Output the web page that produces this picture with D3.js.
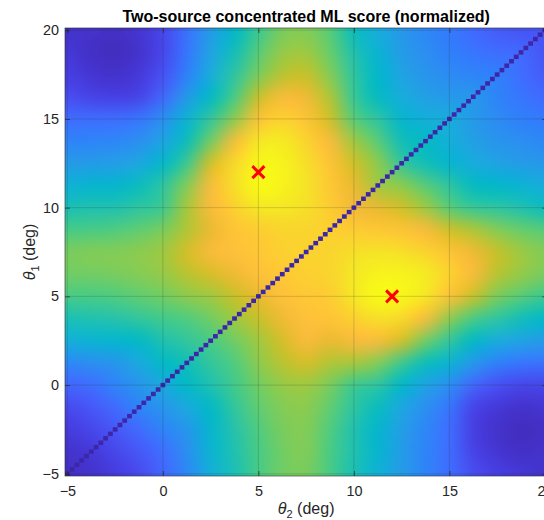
<!DOCTYPE html>
<html>
<head>
<meta charset="utf-8">
<script src="https://cdn.jsdelivr.net/npm/d3@7"></script>
<style>
  body { margin: 0; background: #fff; }
  svg { display: block; font-family: "Liberation Sans", Arial, Helvetica, sans-serif; }
</style>
</head>
<body>
<svg id="chart" width="544" height="520"></svg>
<script>
// sample points of the score map, every 1.25 deg
const thetaGrid = [-5, -3.75, -2.5, -1.25, 0, 1.25, 2.5, 3.75, 5, 6.25, 7.5,
  8.75, 10, 11.25, 12.5, 13.75, 15, 16.25, 17.5, 18.75, 20];

// rows: theta1 = -5 ... 20 (same order as thetaGrid), columns: theta2 = -5 ... 20
// diagonal entries hold the value just next to the diagonal
const scoreGrid = [
  [0.04, 0.05, 0.08, 0.12, 0.20, 0.29, 0.42, 0.51, 0.60, 0.65, 0.66, 0.60, 0.51, 0.43, 0.35, 0.28, 0.22, 0.13, 0.09, 0.07, 0.05],
  [0.05, 0.07, 0.11, 0.16, 0.22, 0.31, 0.44, 0.52, 0.60, 0.65, 0.67, 0.60, 0.52, 0.45, 0.35, 0.28, 0.22, 0.10, 0.06, 0.04, 0.05],
  [0.08, 0.11, 0.16, 0.21, 0.28, 0.33, 0.45, 0.53, 0.61, 0.66, 0.67, 0.61, 0.52, 0.45, 0.36, 0.29, 0.22, 0.09, 0.05, 0.03, 0.04],
  [0.12, 0.16, 0.21, 0.28, 0.33, 0.40, 0.47, 0.56, 0.63, 0.67, 0.68, 0.63, 0.55, 0.49, 0.39, 0.31, 0.24, 0.10, 0.07, 0.05, 0.06],
  [0.20, 0.22, 0.28, 0.33, 0.40, 0.47, 0.52, 0.59, 0.65, 0.69, 0.70, 0.66, 0.58, 0.55, 0.46, 0.38, 0.31, 0.20, 0.14, 0.11, 0.11],
  [0.29, 0.31, 0.33, 0.40, 0.47, 0.50, 0.56, 0.61, 0.68, 0.73, 0.77, 0.72, 0.71, 0.67, 0.58, 0.49, 0.44, 0.34, 0.27, 0.24, 0.23],
  [0.42, 0.44, 0.45, 0.47, 0.52, 0.56, 0.60, 0.65, 0.70, 0.77, 0.83, 0.80, 0.83, 0.83, 0.77, 0.65, 0.56, 0.47, 0.41, 0.38, 0.35],
  [0.51, 0.52, 0.53, 0.56, 0.59, 0.61, 0.65, 0.70, 0.75, 0.81, 0.85, 0.86, 0.89, 0.93, 0.91, 0.83, 0.68, 0.60, 0.55, 0.50, 0.46],
  [0.60, 0.60, 0.61, 0.63, 0.65, 0.68, 0.70, 0.75, 0.80, 0.85, 0.87, 0.88, 0.95, 1.00, 0.99, 0.95, 0.85, 0.75, 0.66, 0.62, 0.58],
  [0.65, 0.65, 0.66, 0.67, 0.69, 0.73, 0.77, 0.81, 0.85, 0.87, 0.89, 0.90, 0.95, 0.98, 0.98, 0.96, 0.90, 0.83, 0.73, 0.69, 0.66],
  [0.66, 0.67, 0.67, 0.68, 0.70, 0.77, 0.83, 0.85, 0.87, 0.89, 0.90, 0.90, 0.93, 0.94, 0.93, 0.90, 0.86, 0.81, 0.75, 0.70, 0.67],
  [0.60, 0.60, 0.61, 0.63, 0.66, 0.72, 0.80, 0.86, 0.88, 0.90, 0.90, 0.89, 0.88, 0.87, 0.86, 0.83, 0.76, 0.72, 0.67, 0.64, 0.62],
  [0.51, 0.52, 0.52, 0.55, 0.58, 0.71, 0.83, 0.89, 0.95, 0.95, 0.93, 0.88, 0.82, 0.80, 0.76, 0.70, 0.62, 0.57, 0.55, 0.52, 0.49],
  [0.43, 0.45, 0.45, 0.49, 0.55, 0.67, 0.83, 0.93, 1.00, 0.98, 0.94, 0.87, 0.80, 0.70, 0.68, 0.62, 0.55, 0.48, 0.46, 0.44, 0.41],
  [0.35, 0.35, 0.36, 0.39, 0.46, 0.58, 0.77, 0.91, 0.99, 0.98, 0.93, 0.86, 0.76, 0.68, 0.56, 0.50, 0.45, 0.41, 0.38, 0.35, 0.34],
  [0.28, 0.28, 0.29, 0.31, 0.38, 0.49, 0.65, 0.83, 0.95, 0.96, 0.90, 0.83, 0.70, 0.62, 0.50, 0.48, 0.42, 0.37, 0.33, 0.31, 0.29],
  [0.22, 0.22, 0.22, 0.24, 0.31, 0.44, 0.56, 0.68, 0.85, 0.90, 0.86, 0.76, 0.62, 0.55, 0.45, 0.42, 0.41, 0.34, 0.30, 0.27, 0.25],
  [0.13, 0.10, 0.09, 0.10, 0.20, 0.34, 0.47, 0.60, 0.75, 0.83, 0.81, 0.72, 0.57, 0.48, 0.41, 0.37, 0.34, 0.34, 0.28, 0.24, 0.21],
  [0.09, 0.06, 0.05, 0.07, 0.14, 0.27, 0.41, 0.55, 0.66, 0.73, 0.75, 0.67, 0.55, 0.46, 0.38, 0.33, 0.30, 0.28, 0.27, 0.22, 0.17],
  [0.07, 0.04, 0.03, 0.05, 0.11, 0.24, 0.38, 0.50, 0.62, 0.69, 0.70, 0.64, 0.52, 0.44, 0.35, 0.31, 0.27, 0.24, 0.22, 0.21, 0.15],
  [0.05, 0.05, 0.04, 0.06, 0.11, 0.23, 0.35, 0.46, 0.58, 0.66, 0.67, 0.62, 0.49, 0.41, 0.34, 0.29, 0.25, 0.21, 0.17, 0.15, 0.15]
];

// theta1 == theta2 cells of the 0.25 deg search grid, where the score drops to 0
const diagonalStep = 0.25;
const diagonalScore = 0;

// true source directions
const markerTheta2 = [5, 12];
const markerTheta1 = [12, 5];

const xTicks = [-5, 0, 5, 10, 15, 20];
const yTicks = [-5, 0, 5, 10, 15, 20];

// parula, 64 entries
const parula = [
  [0.2422,0.1504,0.6603],[0.2504,0.1650,0.7076],[0.2578,0.1818,0.7511],[0.2647,0.1978,0.7952],
  [0.2706,0.2147,0.8364],[0.2751,0.2342,0.8710],[0.2783,0.2559,0.8991],[0.2803,0.2782,0.9221],
  [0.2813,0.3006,0.9414],[0.2810,0.3228,0.9579],[0.2795,0.3447,0.9717],[0.2760,0.3667,0.9829],
  [0.2699,0.3892,0.9906],[0.2602,0.4123,0.9952],[0.2440,0.4358,0.9988],[0.2206,0.4603,0.9973],
  [0.1963,0.4847,0.9892],[0.1834,0.5074,0.9798],[0.1786,0.5289,0.9682],[0.1764,0.5499,0.9520],
  [0.1687,0.5703,0.9359],[0.1540,0.5902,0.9218],[0.1460,0.6091,0.9079],[0.1380,0.6276,0.8973],
  [0.1248,0.6459,0.8883],[0.1113,0.6635,0.8763],[0.0952,0.6798,0.8598],[0.0689,0.6948,0.8394],
  [0.0297,0.7082,0.8163],[0.0036,0.7203,0.7917],[0.0067,0.7312,0.7660],[0.0433,0.7411,0.7394],
  [0.0964,0.7500,0.7120],[0.1408,0.7584,0.6842],[0.1717,0.7670,0.6554],[0.1938,0.7758,0.6251],
  [0.2161,0.7843,0.5923],[0.2470,0.7918,0.5567],[0.2906,0.7973,0.5188],[0.3406,0.8008,0.4789],
  [0.3909,0.8029,0.4354],[0.4456,0.8024,0.3909],[0.5044,0.7993,0.3480],[0.5616,0.7942,0.3045],
  [0.6174,0.7876,0.2612],[0.6720,0.7793,0.2227],[0.7242,0.7698,0.1910],[0.7738,0.7598,0.1646],
  [0.8203,0.7498,0.1535],[0.8634,0.7406,0.1596],[0.9035,0.7330,0.1774],[0.9393,0.7288,0.2100],
  [0.9728,0.7298,0.2394],[0.9956,0.7434,0.2371],[0.9970,0.7659,0.2199],[0.9952,0.7893,0.2028],
  [0.9892,0.8136,0.1885],[0.9786,0.8386,0.1766],[0.9676,0.8639,0.1643],[0.9610,0.8890,0.1537],
  [0.9597,0.9135,0.1423],[0.9628,0.9373,0.1265],[0.9691,0.9606,0.1064],[0.9769,0.9839,0.0805]
];

const svg = d3.select('#chart');
const plot = { left: 65, top: 28, right: 547.3, bottom: 476 };
const ink = '#262626';

// imagesc-style limits: half a 0.25 deg cell past the first/last sample
const x = d3.scaleLinear().domain([-5.125, 20.125]).range([plot.left, plot.right]);
const y = d3.scaleLinear().domain([-5.125, 20.125]).range([plot.bottom, plot.top]);

const color = d3.scaleLinear()
  .domain(parula.map((d, i) => i / (parula.length - 1)))
  .range(parula.map(c => d3.rgb(c[0] * 255, c[1] * 255, c[2] * 255)))
  .clamp(true);

// one pixel per sample
const n = thetaGrid.length;
const small = document.createElement('canvas');
small.width = n;
small.height = n;
const sctx = small.getContext('2d');
const pixels = sctx.createImageData(n, n);
scoreGrid.forEach((row, i) => {
  row.forEach((v, j) => {
    const c = d3.rgb(color(v));
    const k = ((n - 1 - i) * n + j) * 4;
    pixels.data[k] = c.r;
    pixels.data[k + 1] = c.g;
    pixels.data[k + 2] = c.b;
    pixels.data[k + 3] = 255;
  });
});
sctx.putImageData(pixels, 0, 0);

const halfStep = (thetaGrid[1] - thetaGrid[0]) / 2;
const lo = thetaGrid[0] - halfStep;
const hi = thetaGrid[n - 1] + halfStep;

// scale it up smoothly (shading interp look)
const imgW = Math.round(x(hi) - x(lo));
const imgH = Math.round(y(lo) - y(hi));
const big = document.createElement('canvas');
big.width = imgW;
big.height = imgH;
const bctx = big.getContext('2d');
bctx.imageSmoothingEnabled = true;
bctx.imageSmoothingQuality = 'high';
bctx.filter = 'blur(3px)';
bctx.drawImage(small, 0, 0, imgW, imgH);

svg.append('defs').append('clipPath').attr('id', 'plot-clip')
  .append('rect')
  .attr('x', plot.left)
  .attr('y', plot.top)
  .attr('width', plot.right - plot.left)
  .attr('height', plot.bottom - plot.top);

const field = svg.append('g').attr('clip-path', 'url(#plot-clip)');

field.append('image')
  .attr('href', big.toDataURL())
  .attr('x', x(lo))
  .attr('y', y(hi))
  .attr('width', x(hi) - x(lo))
  .attr('height', y(lo) - y(hi))
  .attr('preserveAspectRatio', 'none');

// the dark staircase along theta1 = theta2
const diagonal = d3.range(thetaGrid[0], thetaGrid[n - 1] + 1e-9, diagonalStep);
field.selectAll('rect.diag')
  .data(diagonal)
  .join('rect')
  .attr('class', 'diag')
  .attr('x', d => x(d - diagonalStep / 2))
  .attr('y', d => y(d + diagonalStep / 2))
  .attr('width', d => x(d + diagonalStep / 2) - x(d - diagonalStep / 2))
  .attr('height', d => y(d - diagonalStep / 2) - y(d + diagonalStep / 2))
  .attr('fill', color(diagonalScore));

// grid on top of the image
field.selectAll('line.gx')
  .data(xTicks)
  .join('line')
  .attr('class', 'gx')
  .attr('x1', d => x(d)).attr('x2', d => x(d))
  .attr('y1', plot.top).attr('y2', plot.bottom)
  .attr('stroke', ink).attr('stroke-opacity', 0.18);

field.selectAll('line.gy')
  .data(yTicks)
  .join('line')
  .attr('class', 'gy')
  .attr('y1', d => y(d)).attr('y2', d => y(d))
  .attr('x1', plot.left).attr('x2', plot.right)
  .attr('stroke', ink).attr('stroke-opacity', 0.18);

// red crosses at the true directions
const markers = markerTheta2.map((t2, i) => ({ t2: t2, t1: markerTheta1[i] }));
svg.selectAll('path.marker')
  .data(markers)
  .join('path')
  .attr('class', 'marker')
  .attr('d', d => {
    const cx = x(d.t2), cy = y(d.t1), r = 6;
    return 'M' + (cx - r) + ',' + (cy - r) + 'L' + (cx + r) + ',' + (cy + r) +
      'M' + (cx - r) + ',' + (cy + r) + 'L' + (cx + r) + ',' + (cy - r);
  })
  .attr('fill', 'none')
  .attr('stroke', '#ff0000')
  .attr('stroke-width', 3);

// axes, ticks pointing inward
function styleAxis(a) {
  a.attr('font-family', null).attr('font-size', null);
  a.select('.domain').remove();
  a.selectAll('line').attr('stroke', ink).attr('stroke-width', 0.7);
  a.selectAll('text').attr('fill', ink).style('font-size', '14.4px');
}

svg.append('g')
  .attr('transform', 'translate(0,' + plot.bottom + ')')
  .call(d3.axisBottom(x).tickValues(xTicks).tickSize(-5).tickPadding(10))
  .call(styleAxis);

svg.append('g')
  .attr('transform', 'translate(0,' + plot.top + ')')
  .call(d3.axisTop(x).tickValues(xTicks).tickSize(-5).tickFormat(''))
  .call(styleAxis);

svg.append('g')
  .attr('transform', 'translate(' + plot.left + ',0)')
  .call(d3.axisLeft(y).tickValues(yTicks).tickSize(-5).tickPadding(6))
  .call(styleAxis);

svg.append('g')
  .attr('transform', 'translate(' + plot.right + ',0)')
  .call(d3.axisRight(y).tickValues(yTicks).tickSize(-5).tickFormat(''))
  .call(styleAxis);

svg.append('rect')
  .attr('x', plot.left)
  .attr('y', plot.top)
  .attr('width', plot.right - plot.left)
  .attr('height', plot.bottom - plot.top)
  .attr('fill', 'none')
  .attr('stroke', ink)
  .attr('stroke-width', 0.6);

// title and labels
const midX = (plot.left + plot.right) / 2;
const midY = (plot.top + plot.bottom) / 2;

svg.append('text')
  .attr('x', midX)
  .attr('y', 22)
  .attr('text-anchor', 'middle')
  .attr('font-weight', 'bold')
  .attr('font-size', 16)
  .attr('fill', '#000')
  .text('Two-source concentrated ML score (normalized)');

function thetaLabel(sel, sub) {
  sel.append('tspan').attr('font-style', 'italic').text('θ');
  sel.append('tspan').attr('font-size', 11).attr('dy', 4).text(sub);
  sel.append('tspan').attr('dy', -4).text(' (deg)');
}

svg.append('text')
  .attr('x', midX)
  .attr('y', 514)
  .attr('text-anchor', 'middle')
  .attr('font-size', 16)
  .attr('fill', ink)
  .call(thetaLabel, '2');

svg.append('text')
  .attr('transform', 'translate(35,' + midY + ') rotate(-90)')
  .attr('text-anchor', 'middle')
  .attr('font-size', 16)
  .attr('fill', ink)
  .call(thetaLabel, '1');
</script>
</body>
</html>
